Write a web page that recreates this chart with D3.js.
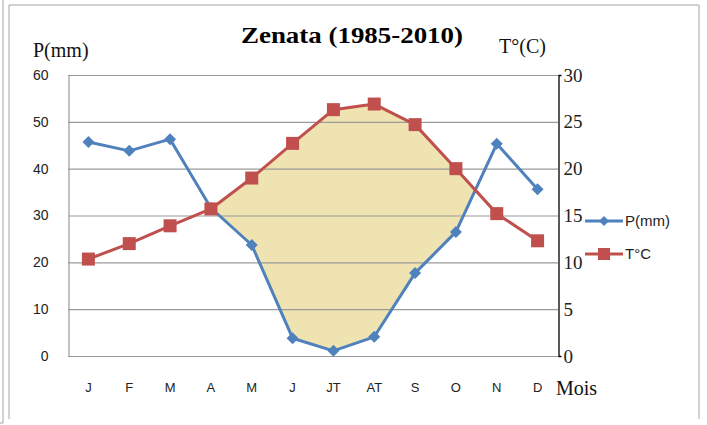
<!DOCTYPE html>
<html>
<head>
<meta charset="utf-8">
<script src="https://cdn.jsdelivr.net/npm/d3@7"></script>
<style>
  body { margin: 0; background: #fff; }
  svg { display: block; }
</style>
</head>
<body>
<div id="chart"></div>
<script>
// months (labels) and the two series
let months = ["J", "F", "M", "A", "M", "J", "JT", "AT", "S", "O", "N", "D"];
let precip = [45.7, 43.8, 46.3, 31.6, 23.7, 3.8, 1.1, 4.1, 17.7, 26.5, 45.3, 35.6];
let temp = [10.35, 12.0, 13.9, 15.7, 19.0, 22.7, 26.3, 26.9, 24.7, 20.0, 15.2, 12.3];
let pTicks = [0, 10, 20, 30, 40, 50, 60];
let tTicks = [0, 5, 10, 15, 20, 25, 30];

let width = 707, height = 425;
let plot = {left: 68, right: 558, top: 75, bottom: 356};
let blue = "#4F81BD", red = "#C0504D", dry = "#EFE3B1";
let sans = "'Liberation Sans', Arial, sans-serif";
let serif = "'Liberation Serif', 'Times New Roman', serif";

let svg = d3.select("#chart").append("svg")
    .attr("width", width)
    .attr("height", height);

// outer frame
let frame = svg.append("g").attr("stroke", "#a6a6a6").attr("fill", "none");
frame.append("path").attr("d", "M9,419V5H699V419");
frame.append("path").attr("d", "M3,0V423H0");

let data = months.map(function(m, i) { return {i: i, label: m, p: precip[i], t: temp[i]}; });

let x = d3.scaleBand()
    .domain(d3.range(months.length))
    .range([plot.left, plot.right]);

let yP = d3.scaleLinear().domain([0, 60]).range([plot.bottom, plot.top]);
let yT = d3.scaleLinear().domain([0, 30]).range([plot.bottom, plot.top]);

let cx = function(d) { return x(d.i) + x.bandwidth() / 2; };

// dry season: under the temperature curve and above the rain curve
let defs = svg.append("defs");
defs.append("clipPath").attr("id", "abovePrecip")
    .append("path")
    .datum(data)
    .attr("d", d3.area().x(cx).y0(plot.top).y1(function(d) { return yP(d.p); }));

svg.append("path")
    .datum(data)
    .attr("clip-path", "url(#abovePrecip)")
    .attr("fill", dry)
    .attr("d", d3.area().x(cx).y0(plot.bottom).y1(function(d) { return yT(d.t); }));

// gridlines
svg.append("g")
    .selectAll("line")
    .data(pTicks)
    .enter()
    .append("line")
    .attr("x1", plot.left)
    .attr("x2", plot.right)
    .attr("y1", function(d) { return yP(d) + 0.5; })
    .attr("y2", function(d) { return yP(d) + 0.5; })
    .attr("stroke", "#9a9a9a")
    .attr("stroke-width", 1.2);

// left axis
let leftAxis = svg.append("g")
    .attr("transform", `translate(${plot.left + 0.5},0)`)
    .call(d3.axisLeft(yP).tickValues(pTicks).tickSize(0).tickPadding(20));
leftAxis.select(".domain").attr("stroke", "#9a9a9a").attr("stroke-width", 1.2);
leftAxis.selectAll("text")
    .style("font-family", sans)
    .style("font-size", "14px")
    .attr("fill", "#222");

// right axis
let rightAxis = svg.append("g")
    .attr("transform", `translate(${plot.right + 0.5},0)`)
    .call(d3.axisRight(yT).tickValues(tTicks).tickSizeInner(0).tickSizeOuter(3).tickPadding(5));
rightAxis.select(".domain").attr("stroke", "#000").attr("stroke-width", 1.3);
rightAxis.selectAll("text")
    .style("font-family", serif)
    .style("font-size", "19px")
    .attr("fill", "#222");

// month labels
let bottomAxis = svg.append("g")
    .attr("transform", `translate(0,${plot.bottom})`)
    .call(d3.axisBottom(x).tickSize(0).tickPadding(27).tickFormat(function(i) { return months[i]; }));
bottomAxis.select(".domain").remove();
bottomAxis.selectAll("text")
    .style("font-family", sans)
    .style("font-size", "13px")
    .attr("fill", "#222");

// precipitation line + diamonds
svg.append("path")
    .datum(data)
    .attr("fill", "none")
    .attr("stroke", blue)
    .attr("stroke-width", 3)
    .attr("stroke-linejoin", "round")
    .attr("d", d3.line().x(cx).y(function(d) { return yP(d.p); }));

svg.append("g")
    .selectAll("path")
    .data(data)
    .enter()
    .append("path")
    .attr("fill", blue)
    .attr("transform", function(d) { return `translate(${cx(d)},${yP(d.p)})`; })
    .attr("d", "M0,-6L6,0L0,6L-6,0Z");

// temperature line + squares
svg.append("path")
    .datum(data)
    .attr("fill", "none")
    .attr("stroke", red)
    .attr("stroke-width", 3)
    .attr("stroke-linejoin", "round")
    .attr("d", d3.line().x(cx).y(function(d) { return yT(d.t); }));

svg.append("g")
    .selectAll("rect")
    .data(data)
    .enter()
    .append("rect")
    .attr("fill", red)
    .attr("x", function(d) { return cx(d) - 6.5; })
    .attr("y", function(d) { return yT(d.t) - 6.5; })
    .attr("width", 13)
    .attr("height", 13);

// titles
svg.append("text")
    .attr("x", 352)
    .attr("y", 43)
    .attr("text-anchor", "middle")
    .attr("textLength", 222)
    .attr("lengthAdjust", "spacingAndGlyphs")
    .style("font-family", serif)
    .style("font-weight", "bold")
    .style("font-size", "24px")
    .text("Zenata (1985-2010)");

svg.append("text")
    .attr("x", 33)
    .attr("y", 57)
    .style("font-family", serif)
    .style("font-size", "20px")
    .attr("fill", "#111")
    .text("P(mm)");

svg.append("text")
    .attr("x", 499)
    .attr("y", 53)
    .style("font-family", serif)
    .style("font-size", "20px")
    .attr("fill", "#111")
    .text("T°(C)");

svg.append("text")
    .attr("x", 556)
    .attr("y", 395)
    .style("font-family", serif)
    .style("font-size", "20px")
    .attr("fill", "#111")
    .text("Mois");

// legend
let legendItems = [
    {label: "P(mm)", color: blue, shape: "diamond"},
    {label: "T°C", color: red, shape: "square"}
];
let legend = svg.append("g")
    .selectAll("g")
    .data(legendItems)
    .enter()
    .append("g")
    .attr("transform", function(d, i) { return `translate(585,${221 + i * 33})`; });

legend.append("line")
    .attr("x1", 0).attr("x2", 38)
    .attr("stroke", function(d) { return d.color; })
    .attr("stroke-width", 3);

legend.append("path")
    .attr("fill", function(d) { return d.color; })
    .attr("transform", "translate(19,0)")
    .attr("d", function(d) { return d.shape == "diamond" ? "M0,-5L5,0L0,5L-5,0Z" : "M-6,-6H6V6H-6Z"; });

legend.append("text")
    .attr("x", 40)
    .attr("dy", "0.36em")
    .style("font-family", sans)
    .style("font-size", "15px")
    .attr("fill", "#222")
    .text(function(d) { return d.label; });
</script>
</body>
</html>
